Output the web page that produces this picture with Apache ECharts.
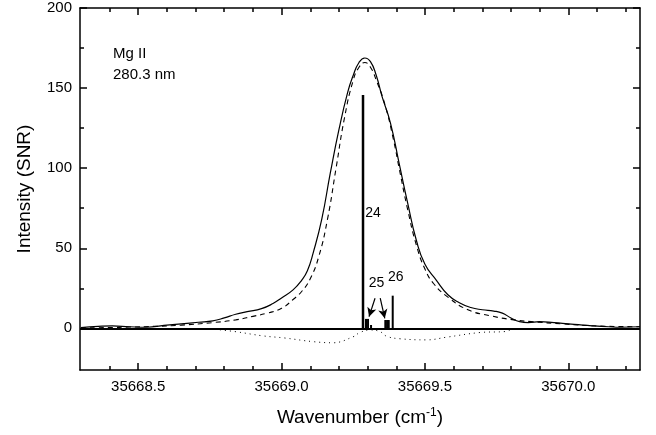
<!DOCTYPE html>
<html><head><meta charset="utf-8">
<script src="https://cdn.jsdelivr.net/npm/echarts@6/dist/echarts.min.js"></script>
<style>html,body{margin:0;padding:0;background:#fff}#c{width:656px;height:435px}</style>
</head><body><div id="c"></div>
<script>
// ---- data ----
const xMajorTicks = [35668.5, 35669.0, 35669.5, 35670.0];
const xMinorTicks = [35668.4, 35668.6, 35668.7, 35668.8, 35668.9, 35669.1, 35669.2, 35669.3, 35669.4, 35669.6, 35669.7, 35669.8, 35669.9, 35670.1, 35670.2];
const yMajorTicks = [0, 50, 100, 150, 200];
const yMinorTicks = [25, 75, 125, 175];

const obsX = [35668.30, 35668.36, 35668.41, 35668.47, 35668.53, 35668.59, 35668.65, 35668.71, 35668.76, 35668.80, 35668.84, 35668.88, 35668.93, 35668.97, 35669.00, 35669.04, 35669.07, 35669.09, 35669.11, 35669.14, 35669.17, 35669.20, 35669.23, 35669.25, 35669.27, 35669.29, 35669.31, 35669.33, 35669.35, 35669.38, 35669.41, 35669.44, 35669.47, 35669.50, 35669.54, 35669.58, 35669.62, 35669.66, 35669.70, 35669.74, 35669.77, 35669.80, 35669.83, 35669.86, 35669.90, 35669.95, 35670.00, 35670.05, 35670.09, 35670.14, 35670.18, 35670.25];
const obsY = [0.5, 1.2, 1.5, 1.0, 0.7, 1.8, 2.8, 3.8, 4.7, 6.5, 8.8, 10.4, 12.3, 15.5, 19, 24, 30, 36, 47, 68, 97, 124, 147, 158, 166, 168.8, 166.5, 158, 145, 128, 103, 78, 55, 40, 30, 21, 16, 13, 11.6, 10.8, 9.5, 6.5, 4.2, 3.6, 4.2, 3.6, 2.8, 2.0, 1.5, 1.0, 0.7, 1.0];

const fitX = [35668.30, 35668.40, 35668.47, 35668.55, 35668.65, 35668.76, 35668.84, 35668.90, 35668.95, 35669.00, 35669.04, 35669.07, 35669.10, 35669.13, 35669.16, 35669.19, 35669.22, 35669.25, 35669.27, 35669.29, 35669.31, 35669.33, 35669.36, 35669.39, 35669.41, 35669.44, 35669.47, 35669.50, 35669.53, 35669.58, 35669.65, 35669.73, 35669.81, 35669.87, 35669.98, 35670.10, 35670.25];
const fitY = [0.3, 0.5, 0.8, 1.2, 2.0, 3.6, 5.3, 7.5, 9.5, 12.5, 18, 23, 31, 45, 68, 100, 132, 155, 163, 166, 163, 155, 140, 118, 100, 74, 52, 37, 28, 19.5, 11.6, 7.8, 5.3, 4.2, 2.8, 1.5, 1.0];

const resX = [35668.785, 35668.837, 35668.935, 35669.01, 35669.11, 35669.18, 35669.249, 35669.273, 35669.308, 35669.343, 35669.367, 35669.413, 35669.506, 35669.576, 35669.692, 35669.779, 35669.797];
const resY = [-1, -2, -4.7, -6, -8.3, -9, -5.3, -2.6, -1, -2, -5, -6.5, -7.2, -5.5, -2.6, -2, -1];

const stickX = [35669.284, 35669.2945, 35669.3015, 35669.312, 35669.3618, 35669.3678, 35669.3737, 35669.3876];
const stickY = [145.7, 5.9, 5.9, 2.1, 5.2, 5.2, 5.2, 20.4];

const labelNames = ['24', '25', '26'];
const labelX = [35669.319, 35669.331, 35669.398];
const labelY = [72, 28.5, 32];

const arrowFrom = [[35669.326, 18.8], [35669.344, 18.8]];
const arrowTo = [[35669.305, 7.3], [35669.360, 6.3]];

const xMin = 35668.297, xMax = 35670.25, yMin = -26, yMax = 200;

// ---- chart ----
const zip = (a, b) => a.map((v, i) => [v, b[i]]);
const font = '"Liberation Sans", Arial, Helvetica, sans-serif';
const chart = echarts.init(document.getElementById('c'), null, {renderer: 'canvas'});

function xAx(pos, ticks, len, labels, line) {
  return {
    type: 'value', position: pos, min: xMin, max: xMax,
    axisLine: {show: line, onZero: false, lineStyle: {color: '#000', width: 1.5}},
    axisTick: {show: true, inside: true, length: len, customValues: ticks, lineStyle: {color: '#000', width: 1.5}},
    axisLabel: labels ? {show: true, customValues: ticks, formatter: v => Number(v).toFixed(1), fontSize: 15, color: '#000', margin: 9, fontFamily: font} : {show: false},
    splitLine: {show: false}
  };
}
function yAx(pos, ticks, len, labels, line) {
  return {
    type: 'value', position: pos, min: yMin, max: yMax,
    axisLine: {show: line, onZero: false, lineStyle: {color: '#000', width: 1.5}},
    axisTick: {show: true, inside: true, length: len, customValues: ticks, lineStyle: {color: '#000', width: 1.5}},
    axisLabel: labels ? {show: true, customValues: ticks, fontSize: 15, color: '#000', margin: 8, fontFamily: font} : {show: false},
    splitLine: {show: false}
  };
}

const xa0 = xAx('bottom', xMajorTicks, 7, true, true);
xa0.name = 'Wavenumber (cm{sup|-1})';
xa0.nameLocation = 'middle';
xa0.nameGap = 37;
xa0.nameTextStyle = {fontSize: 19, color: '#000', fontFamily: font,
  rich: {sup: {fontSize: 12, color: '#000', fontFamily: font, verticalAlign: 'top', padding: [0, 0, 9, 0]}}};
const ya0 = yAx('left', yMajorTicks, 7, true, true);
ya0.name = 'Intensity (SNR)';
ya0.nameLocation = 'middle';
ya0.nameGap = 46;
ya0.nameTextStyle = {fontSize: 19, color: '#000', fontFamily: font};

chart.setOption({
  animation: false,
  backgroundColor: '#fff',
  grid: {left: 80, right: 16, top: 8, bottom: 65, containLabel: false},
  xAxis: [xa0, xAx('bottom', xMinorTicks, 4, false, false), xAx('top', xMajorTicks, 7, false, true), xAx('top', xMinorTicks, 4, false, false)],
  yAxis: [ya0, yAx('left', yMinorTicks, 4, false, false), yAx('right', yMajorTicks, 7, false, true), yAx('right', yMinorTicks, 4, false, false)],
  graphic: [
    {type: 'text', left: 113, top: 46, style: {text: 'Mg II', fill: '#000', font: '15px ' + font}},
    {type: 'text', left: 113, top: 67, style: {text: '280.3 nm', fill: '#000', font: '15px ' + font}}
  ],
  series: [
    {type: 'line', data: zip(fitX, fitY), showSymbol: false, smooth: 0.5,
      lineStyle: {color: '#000', width: 1.1, type: [5, 4]}, z: 3},
    {type: 'line', data: zip(obsX, obsY), showSymbol: false, smooth: 0.5,
      lineStyle: {color: '#000', width: 1.2}, z: 4,
      markLine: {silent: true, symbol: 'none', label: {show: false},
        lineStyle: {color: '#000', width: 2, type: 'solid'}, data: [{yAxis: 0}]}},
    {type: 'line', data: zip(resX, resY), showSymbol: false, smooth: 0.4,
      lineStyle: {color: '#000', width: 1, type: [1, 4]}, z: 3},
    {type: 'custom', data: zip(stickX, stickY), z: 5,
      renderItem: (params, api) => {
        const x = api.value(0), y = api.value(1);
        const p0 = api.coord([x, 0]), p1 = api.coord([x, y]);
        return {type: 'line', shape: {x1: p0[0], y1: p0[1], x2: p1[0], y2: p1[1]},
          style: {stroke: '#000', lineWidth: y > 100 ? 2.5 : 2}};
      }},
    {type: 'scatter', data: labelNames.map((n, i) => ({name: n, value: [labelX[i], labelY[i]]})),
      symbolSize: 0, z: 6, itemStyle: {opacity: 1},
      label: {show: true, position: 'inside', formatter: p => p.name, fontSize: 14, color: '#000',
        fontFamily: font, textBorderWidth: 0, opacity: 1},
      markLine: {silent: true, symbol: ['none', 'arrow'], symbolSize: [7, 9], label: {show: false},
        lineStyle: {color: '#000', width: 1.2, type: 'solid'},
        data: arrowFrom.map((f, i) => [{coord: f}, {coord: arrowTo[i]}])}}
  ]
});
</script></body></html>
